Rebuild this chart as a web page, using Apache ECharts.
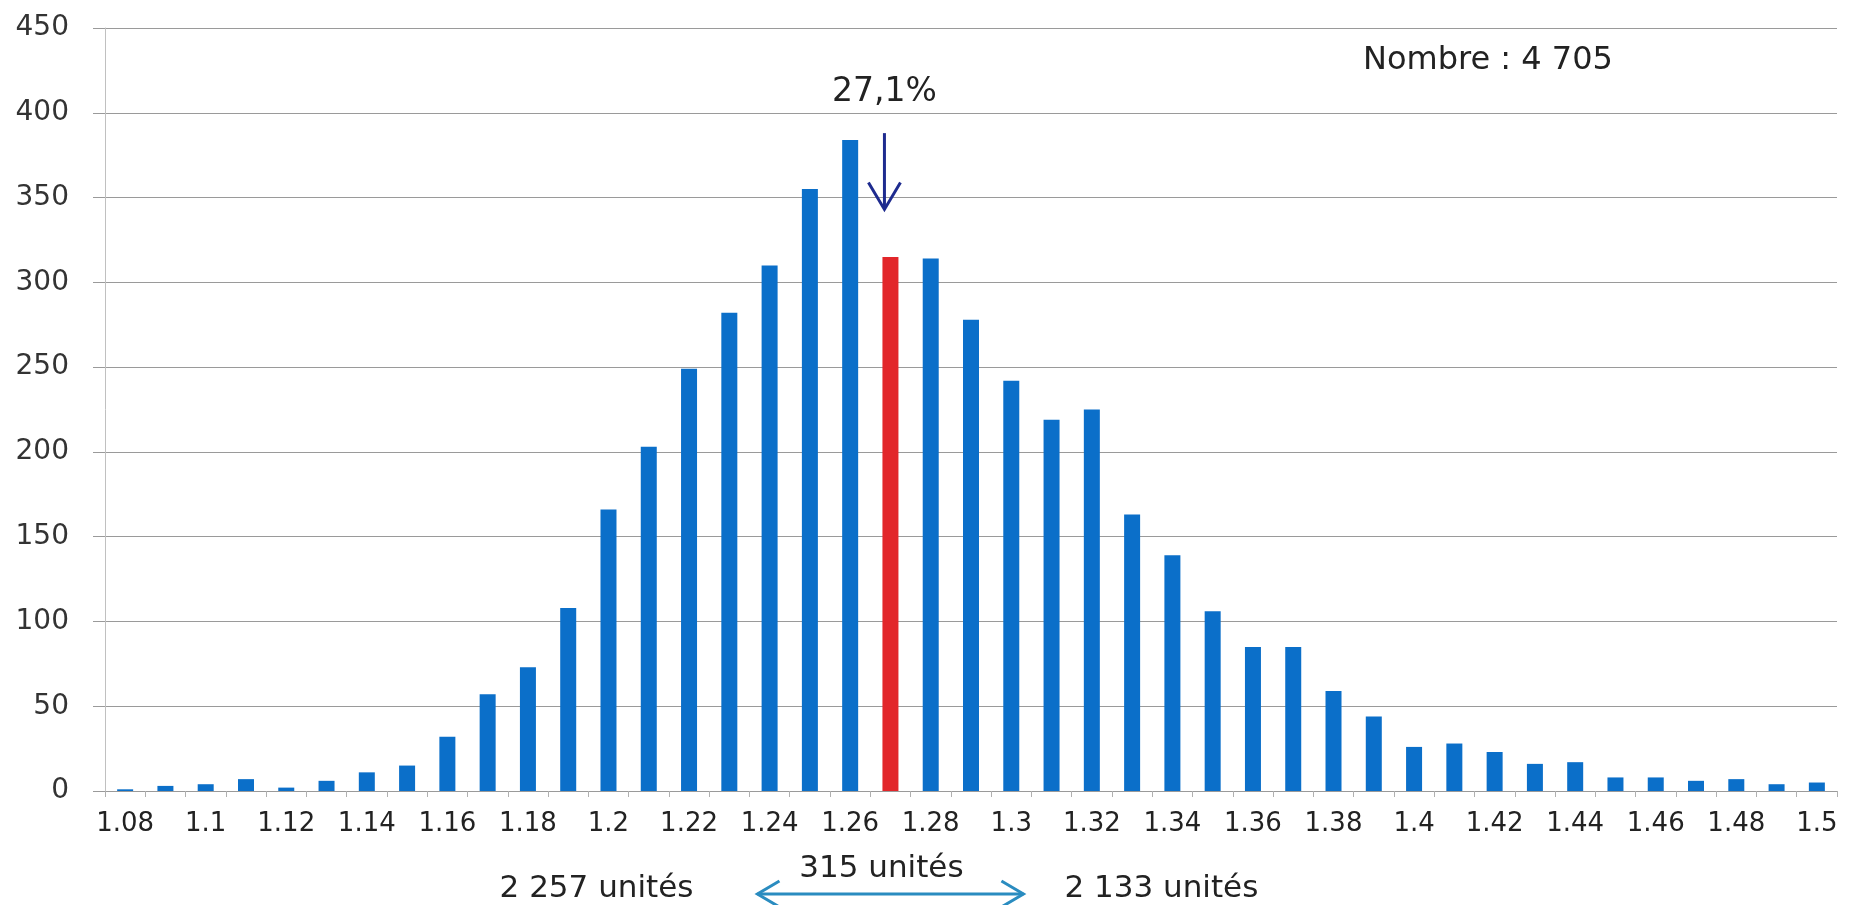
<!DOCTYPE html>
<html>
<head>
<meta charset="utf-8">
<script src="https://cdn.jsdelivr.net/npm/echarts@6/dist/echarts.min.js"></script>
<style>
html,body{margin:0;padding:0;background:#fff;}
#chart{width:1862px;height:905px;}
</style>
</head>
<body>
<div id="chart"></div>
<script>
// ---- data ----
const categories = ['1.08','1.09','1.1','1.11','1.12','1.13','1.14','1.15','1.16','1.17',
  '1.18','1.19','1.2','1.21','1.22','1.23','1.24','1.25','1.26','1.27',
  '1.28','1.29','1.3','1.31','1.32','1.33','1.34','1.35','1.36','1.37',
  '1.38','1.39','1.4','1.41','1.42','1.43','1.44','1.45','1.46','1.47',
  '1.48','1.49','1.5'];
const counts = [1,3,4,7,2,6,11,15,32,57,
  73,108,166,203,249,282,310,355,384,315,
  314,278,242,219,225,163,139,106,85,85,
  59,44,26,28,23,16,17,8,8,6,
  7,4,5];
const highlightCategory = '1.27';
const yTicks = {min:0, max:450, interval:50};
const labelTotal = 'Nombre : 4 705';
const labelPercent = '27,1%';
const labelLeft = '2 257 unités';
const labelMiddle = '315 unités';
const labelRight = '2 133 unités';
const percentArrowFrom = 388;   // value where arrow starts
const percentArrowTo = 343;     // value where arrow tip is
const percentLabelValue = 412;

const BLUE = '#0b6fc9', RED = '#e2262a';
const FONT = 'DejaVu Sans';

const chart = echarts.init(document.getElementById('chart'));
const barData = counts.map((v,i)=>({
  value: v,
  itemStyle: {color: categories[i] === highlightCategory ? RED : BLUE}
}));

chart.setOption({
  animation:false,
  backgroundColor:'#fff',
  grid:{left:105, right:25, top:28, bottom:114, containLabel:false},
  xAxis:{
    type:'category',
    data:categories,
    boundaryGap:true,
    axisLine:{show:true, lineStyle:{color:'#9a9a9a', width:1}},
    axisTick:{show:true, interval:0, length:6, lineStyle:{color:'#b0b0b0'}},
    axisLabel:{interval:1, margin:20, fontFamily:FONT, fontSize:26, color:'#222'},
    splitLine:{show:false}
  },
  yAxis:{
    type:'value',
    min:yTicks.min, max:yTicks.max, interval:yTicks.interval,
    axisLine:{show:true, lineStyle:{color:'#c0c0c0', width:1}},
    axisTick:{show:true, length:12, lineStyle:{color:'#9a9a9a'}},
    axisLabel:{margin:36, fontFamily:FONT, fontSize:28, color:'#333'},
    splitLine:{show:true, lineStyle:{color:'#9a9a9a', width:1}}
  },
  series:[{
    type:'bar',
    data:barData,
    barWidth:16
  }]
});

function drawAnnotations(){
  const pFrom = chart.convertToPixel({gridIndex:0},[highlightCategory, percentArrowFrom]);
  const pTo = chart.convertToPixel({gridIndex:0},[highlightCategory, percentArrowTo]);
  const pLab = chart.convertToPixel({gridIndex:0},[highlightCategory, percentLabelValue]);
  const pBase = chart.convertToPixel({gridIndex:0},[highlightCategory, 0]);
  const ax = pFrom[0] - 6;
  const navy = '#1e2b8f';
  const teal = '#2a8cc0';
  const by = pBase[1] + 103;   // double arrow level
  const half = 133;
  const cx = pBase[0];
  chart.setOption({
    graphic:[
      {type:'line', shape:{x1:ax, y1:pFrom[1], x2:ax, y2:pTo[1]}, style:{stroke:navy, lineWidth:3}},
      {type:'polyline', shape:{points:[[ax-16,pTo[1]-27],[ax,pTo[1]],[ax+16,pTo[1]-27]]}, style:{stroke:navy, lineWidth:3, fill:null}},
      {type:'text', x:ax, y:pLab[1], style:{text:labelPercent, font:'33px "DejaVu Sans"', fill:'#222', textAlign:'center', textVerticalAlign:'middle'}},
      {type:'text', x:1363, y:61, style:{text:labelTotal, font:'32px "DejaVu Sans"', fill:'#222', textAlign:'left', textVerticalAlign:'middle'}},
      {type:'line', shape:{x1:cx-half, y1:by, x2:cx+half, y2:by}, style:{stroke:teal, lineWidth:3}},
      {type:'polyline', shape:{points:[[cx-half+22,by-13],[cx-half,by],[cx-half+22,by+13]]}, style:{stroke:teal, lineWidth:3, fill:null}},
      {type:'polyline', shape:{points:[[cx+half-22,by-13],[cx+half,by],[cx+half-22,by+13]]}, style:{stroke:teal, lineWidth:3, fill:null}},
      {type:'text', x:cx-9, y:by-25, style:{text:labelMiddle, font:'31px "DejaVu Sans"', fill:'#222', textAlign:'center', textVerticalAlign:'middle'}},
      {type:'text', x:cx-197, y:by-5, style:{text:labelLeft, font:'31px "DejaVu Sans"', fill:'#222', textAlign:'right', textVerticalAlign:'middle'}},
      {type:'text', x:cx+174, y:by-5, style:{text:labelRight, font:'31px "DejaVu Sans"', fill:'#222', textAlign:'left', textVerticalAlign:'middle'}}
    ]
  });
}
drawAnnotations();
</script>
</body>
</html>
